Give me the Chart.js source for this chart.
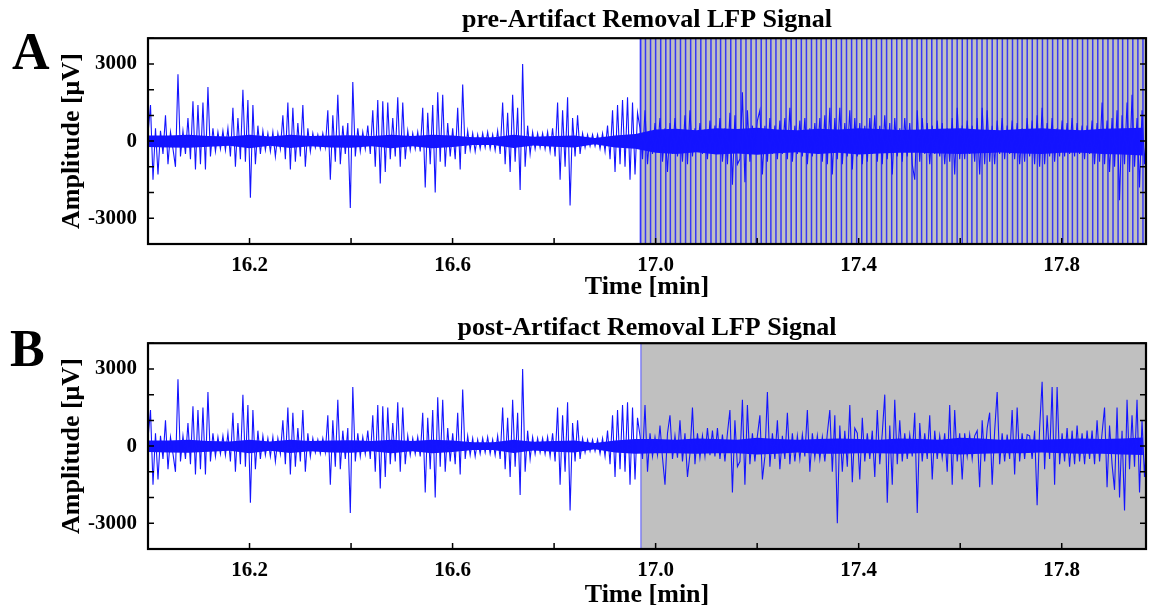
<!DOCTYPE html>
<html>
<head>
<meta charset="utf-8">
<script src="https://cdn.jsdelivr.net/npm/chart.js@4.4.1/dist/chart.umd.min.js"></script>
<style>
  body { margin: 0; background: #fff; width: 1150px; height: 613px; position: relative; overflow: hidden; }
  canvas { position: absolute; left: 0; }
  .letter { position: absolute; font: bold 52px 'Liberation Serif', serif; line-height: 52px; color: #000; }
</style>
</head>
<body>
<canvas id="chartA" width="1150" height="305" style="top:0"></canvas>
<canvas id="chartB" width="1150" height="308" style="top:305px"></canvas>
<div class="letter" style="left:12px;top:26px">A</div>
<div class="letter" style="left:10px;top:323px">B</div>
<script>
// sampling of the LFP trace (minutes)
const t0 = 16.0;
const dt = 0.00492;

// 16.0 - 16.97 min, same in both panels
const preSignal = [
  300, 1400, -1500, 500, -1300, 400, -500, 1000, -900, 350,
  -300, -1000, 2600, -600, 400, -500, 900, -700, 1550, -1100,
  1400, -900, 1500, -1100, 2100, -600, 500, -400, 350, -300,
  400, -350, 500, -600, 1300, -1000, 900, -700, 2000, -800,
  1600, -2200, 1400, -900, 600, -500, 400, -350, 300, -400,
  350, -600, 300, -300, 1000, -700, 1500, -1100, 1300, -800,
  700, -600, 1400, -1000, 500, -400, 300, -250, 250, -300,
  300, -250, 1200, -1500, 1000, -800, 1800, -900, 600, -500,
  700, -2600, 2300, -600, 500, -400, 350, -300, 600, -500,
  1200, -1000, 1600, -1650, 1550, -1200, 1500, -700, 900, -600,
  1700, -1000, 1500, -700, 400, -350, 300, -300, 350, -400,
  1300, -1800, 1100, -900, 1400, -2000, 1900, -800, 1800, -1000,
  700, -600, 500, -700, 1300, -1100, 2200, -500, 400, -350,
  300, -400, 250, -300, 300, -250, 350, -300, 250, -350,
  400, -500, 1500, -900, 1100, -1200, 1800, -800, 1300, -1900,
  3000, -1000, 600, -500, 350, -300, 300, -250, 300, -300,
  350, -400, 500, -600, 1500, -1500, 1200, -1000, 1700, -2500,
  900, -600, 1000, -500, 300, -250, 250, -200, 250, -200,
  250, -300, 300, -400, 600, -700, 1200, -1200, 1400, -900,
  1600, -1000, 1700, -1500, 1500, -1300, 1100
];

// 16.97 - 17.97 min, raw recording (panel A)
const postSignalA = [
  500, -700, 1200, -900, 400, -500, 700, -400, 900, -800,
  500, -1200, 700, -500, 900, -600, 400, -800, 1000, -900,
  1200, -600, 500, -400, 700, -500, 450, -700, 800, -500,
  600, -500, 900, -800, 500, -900, 1100, -1700, 1000, -900,
  -700, 1900, -1600, 1200, -800, 600, -500, 800, 1200, -1300,
  600, -800, 900, -500, 600, -700, 800, -500, 900, -700,
  1300, -800, 600, -500, 800, -600, 900, -900, 500, -600,
  700, -500, 900, -800, 1000, -900, 1300, -1300, 900, -700,
  1300, -900, 700, -600, 1200, -1100, 900, -600, 700, -900,
  600, -800, 900, -500, 1000, -800, 600, -900, 1000, -700,
  700, -1300, 900, -600, 500, -800, 900, -600, 700, -900,
  -1500, 1200, -800, 900, -500, 700, -900, 600, -500, 800,
  -600, 700, -900, 500, -800, 900, -1300, 1300, -700, 600,
  -700, 800, -500, 600, -800, 900, -1300, 1300, -900, 1200,
  -800, 600, -900, 800, -500, 900, -700, 600, -500, 800,
  -700, 700, -900, 500, -800, 900, -600, 800, -900, 1000,
  -1000, 1300, -900, 700, -600, 900, -800, 500, -600, 800,
  -600, 700, -500, 900, -600, 700, -500, 600, -700, 600,
  -500, 800, -900, 700, -800, 1500, -900, 800, -1200, 900,
  -1000, 1200, -2300, 1000, -900, 1500, -1200, 1800, -1000, 900,
  -1800, 1200, -900, 700
];

// 16.97 - 17.97 min, after artifact removal (panel B)
const postSignalB = [
  400, -500, 1600, -1000, 500, -400, 350, -350, 800, -450,
  -1500, 500, 1200, -500, 400, -450, 1000, -600, 500, -1200,
  -300, 1500, -700, 500, -450, 400, -400, 700, -350, 600,
  -400, 700, -500, 450, -600, 500, 1400, -1800, 1000, -800,
  -600, 1800, -1500, 1600, -700, 500, -600, 400, 1200, -1300,
  -400, 2100, -800, 500, -500, 1000, -900, 400, -500, 1300,
  -700, 500, -600, 400, -500, 450, -400, 1400, -1000, 500,
  -450, 400, -500, 350, -600, 500, 1400, -1000, 1200, -3000,
  800, -1000, 600, -800, 1600, -1400, 700, 500, -1300, 1100,
  -600, 500, -500, 600, -1200, 1400, -700, 500, 2000, -2200,
  800, -1500, 1800, -700, 1000, -600, 500, -500, 450, -400,
  1300, -2600, 900, -600, 500, -500, 1200, -1300, 600, -500,
  400, -450, 500, -1000, 1600, -1500, 1400, -600, 500, -1300,
  500, -400, 450, -500, 400, 600, -1600, 1000, -600, 700,
  1300, -1500, 600, 2100, -700, 500, -600, 450, -500, 1400,
  -1100, 1500, -600, 500, -500, 450, 400, -500, 600, -2300,
  700, 2500, -900, 1200, -500, 2300, -1500, 2300, -700, 500,
  -600, 700, -800, 600, -700, 800, -600, 500, -700, 600,
  -500, 600, -700, 1000, -600, 500, 1500, -1600, 800, -700,
  -1700, 1500, -2000, 600, -2500, 1800, -900, 1200, -800, 1800,
  -1800, 1000, -1200, 600
];

// dense core of the trace (envelope every 0.04 min)
const bandT0 = 16.0;
const bandDt = 0.04;
const bandUpperPre = [220, 220, 250, 200, 180, 250, 180, 250, 200, 220, 230, 200, 250, 200, 250, 220, 150, 150, 250, 170, 200, 220, 120, 220, 280];
const bandLowerPre = [-230, -250, -260, -220, -180, -280, -180, -270, -200, -250, -260, -200, -280, -200, -280, -230, -150, -150, -270, -170, -220, -250, -120, -250, -300];
const bandUpperPostA = [450, 480, 420, 500, 470, 520, 450, 420, 480, 450, 500, 470, 430, 450, 480, 500, 450, 420, 470, 500, 450, 420, 480, 500, 520];
const bandLowerPostA = [-450, -500, -430, -520, -480, -530, -470, -430, -500, -450, -520, -480, -450, -450, -480, -500, -470, -440, -480, -500, -450, -450, -500, -520, -560];
const bandUpperPostB = [280, 250, 300, 280, 250, 320, 280, 250, 280, 300, 280, 250, 300, 280, 250, 320, 300, 250, 280, 250, 280, 300, 280, 300, 330];
const bandLowerPostB = [-280, -280, -300, -280, -280, -330, -300, -250, -300, -300, -280, -280, -300, -280, -280, -330, -300, -280, -280, -250, -280, -300, -300, -330, -350];

// stimulation artifacts (min)
const artifactTimes = [
  16.970, 16.980, 16.990, 17.000, 17.010, 17.020, 17.029, 17.039, 17.049, 17.059,
  17.069, 17.079, 17.089, 17.099, 17.109, 17.119, 17.128, 17.138, 17.148, 17.158,
  17.168, 17.178, 17.188, 17.198, 17.208, 17.218, 17.227, 17.237, 17.247, 17.257,
  17.267, 17.277, 17.287, 17.297, 17.307, 17.317, 17.326, 17.336, 17.346, 17.356,
  17.366, 17.376, 17.386, 17.396, 17.406, 17.416, 17.425, 17.435, 17.445, 17.455,
  17.465, 17.475, 17.485, 17.495, 17.505, 17.515, 17.524, 17.534, 17.544, 17.554,
  17.564, 17.574, 17.584, 17.594, 17.604, 17.614, 17.623, 17.633, 17.643, 17.653,
  17.663, 17.673, 17.683, 17.693, 17.703, 17.713, 17.722, 17.732, 17.742, 17.752,
  17.762, 17.772, 17.782, 17.792, 17.802, 17.812, 17.821, 17.831, 17.841, 17.851,
  17.861, 17.871, 17.881, 17.891, 17.901, 17.911, 17.920, 17.930, 17.940, 17.950,
  17.960
];

const stimStart = 16.971;
const xMin = 16.0, xMax = 17.966;
const yMin = -4000, yMax = 4000;
const xTicks = [16.0, 16.2, 16.4, 16.6, 16.8, 17.0, 17.2, 17.4, 17.6, 17.8];
const yTicks = [-4000, -3000, -2000, -1000, 0, 1000, 2000, 3000, 4000];
const xTickLabels = ['16.2', '16.6', '17.0', '17.4', '17.8'];
const yTickLabels = ['3000', '0', '-3000'];

const FONT = "'Liberation Serif', 'Times New Roman', serif";
const BLUE = 'rgb(20,20,255)';

function toPoints(values) {
  return values.map((v, i) => ({ x: t0 + i * dt, y: v }));
}

function toBandPoints(values) {
  return values.map((v, i) => ({ x: bandT0 + i * bandDt, y: v }));
}

// box around the plot, ticks pointing inwards
const framePlugin = {
  id: 'frame',
  afterDatasetsDraw(chart) {
    const { ctx, chartArea: a, scales: { x, y } } = chart;
    ctx.save();
    ctx.strokeStyle = '#000';
    ctx.lineWidth = 1.5;
    ctx.beginPath();
    x.ticks.forEach(t => {
      const px = x.getPixelForValue(t.value);
      ctx.moveTo(px, a.bottom);
      ctx.lineTo(px, a.bottom - 6);
    });
    y.ticks.forEach(t => {
      const py = y.getPixelForValue(t.value);
      ctx.moveTo(a.left, py);
      ctx.lineTo(a.left + 6, py);
      ctx.moveTo(a.right, py);
      ctx.lineTo(a.right - 6, py);
    });
    ctx.stroke();
    ctx.lineWidth = 2.2;
    ctx.strokeRect(a.left, a.top, a.right - a.left, a.bottom - a.top);
    ctx.restore();
  }
};

function makeOptions(title, titlePad, xAxisHeight) {
  return {
    responsive: false,
    animation: false,
    layout: { padding: { left: 0, right: 4, top: 0, bottom: 0 } },
    plugins: {
      legend: { display: false },
      tooltip: { enabled: false },
      title: {
        display: true,
        text: title,
        fullSize: false,
        color: '#000',
        font: { family: FONT, size: 26, weight: 'bold' },
        padding: titlePad
      }
    },
    scales: {
      x: {
        type: 'linear',
        min: xMin,
        max: xMax,
        grid: { display: false },
        border: { display: false },
        afterBuildTicks: s => { s.ticks = xTicks.map(v => ({ value: v })); },
        ticks: {
          autoSkip: false,
          maxRotation: 0,
          padding: 1,
          color: '#000',
          font: { family: FONT, size: 21, weight: 'bold' },
          callback: v => {
            const s = v.toFixed(1);
            return xTickLabels.includes(s) ? s : '';
          }
        },
        title: {
          display: true,
          text: 'Time [min]',
          color: '#000',
          font: { family: FONT, size: 26, weight: 'bold' },
          padding: { top: 0, bottom: 2 }
        },
        afterFit: s => { s.height = xAxisHeight; }
      },
      y: {
        min: yMin,
        max: yMax,
        grid: { display: false },
        border: { display: false },
        afterBuildTicks: s => { s.ticks = yTicks.map(v => ({ value: v })); },
        ticks: {
          autoSkip: false,
          padding: 3,
          color: '#000',
          font: { family: FONT, size: 21, weight: 'bold' },
          callback: v => yTickLabels.includes(String(v)) ? String(v) : ''
        },
        title: {
          display: true,
          text: 'Amplitude [μV]',
          color: '#000',
          font: { family: FONT, size: 26, weight: 'bold' },
          padding: { top: 57, bottom: 0 }
        },
        afterFit: s => { s.width = 148; }
      }
    }
  };
}

function shadeDataset() {
  return {
    data: [{ x: stimStart, y: yMin }, { x: stimStart, y: yMax }, { x: xMax, y: yMax }],
    fill: 'start',
    backgroundColor: '#c0c0c0',
    borderColor: 'rgba(90,90,255,0.7)',
    borderWidth: 1.5,
    pointRadius: 0,
    order: 4
  };
}

function signalDataset(values) {
  return {
    data: toPoints(values),
    borderColor: BLUE,
    borderWidth: 1.1,
    pointRadius: 0,
    tension: 0,
    fill: false,
    order: 0
  };
}

function bandDatasets(upper, lower) {
  return [
    { data: toBandPoints(upper), borderWidth: 0, pointRadius: 0, fill: '+1', backgroundColor: BLUE, order: 2 },
    { data: toBandPoints(lower), borderWidth: 0, pointRadius: 0, fill: false, order: 2 }
  ];
}

const artifactPoints = [];
artifactTimes.forEach(t => {
  artifactPoints.push({ x: t, y: yMin - 500 }, { x: t, y: yMax + 500 }, { x: t, y: null });
});

new Chart(document.getElementById('chartA'), {
  type: 'line',
  data: {
    datasets: [
      signalDataset(preSignal.concat(postSignalA)),
      ...bandDatasets(bandUpperPre.concat(bandUpperPostA), bandLowerPre.concat(bandLowerPostA)),
      {
        data: artifactPoints,
        borderColor: 'rgba(30,30,255,0.85)',
        borderWidth: 1.5,
        pointRadius: 0,
        spanGaps: false,
        fill: false,
        order: 3
      },
      shadeDataset()
    ]
  },
  options: makeOptions('pre-Artifact Removal LFP Signal', { top: 5, bottom: 2 }, 61),
  plugins: [framePlugin]
});

new Chart(document.getElementById('chartB'), {
  type: 'line',
  data: {
    datasets: [
      signalDataset(preSignal.concat(postSignalB)),
      ...bandDatasets(bandUpperPre.concat(bandUpperPostB), bandLowerPre.concat(bandLowerPostB)),
      shadeDataset()
    ]
  },
  options: makeOptions('post-Artifact Removal LFP Signal', { top: 8, bottom: -1 }, 64),
  plugins: [framePlugin]
});
</script>
</body>
</html>
